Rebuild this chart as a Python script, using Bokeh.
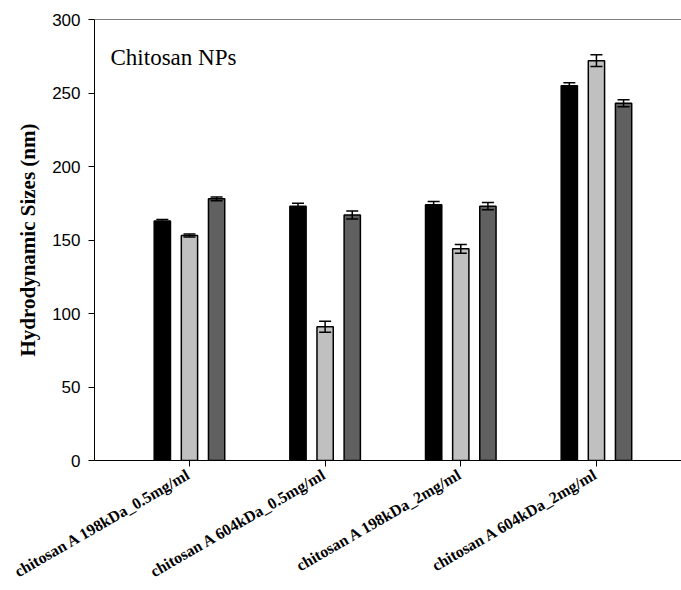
import math
from bokeh.plotting import figure
from bokeh.models import (ColumnDataSource, FixedTicker, Range1d, Whisker, TeeHead,
                          Span, Label)
from bokeh.embed import file_html
from bokeh.resources import INLINE

# ---- data ----
groups = ["chitosan A 198kDa_0.5mg/ml", "chitosan A 604kDa_0.5mg/ml",
          "chitosan A 198kDa_2mg/ml", "chitosan A 604kDa_2mg/ml"]
series1 = [163, 173, 174, 255]
series1_err = [1.0, 2.0, 2.2, 2.0]
series2 = [153, 91, 144, 272]
series2_err = [1.0, 3.8, 3.0, 4.0]
series3 = [178, 167, 173, 243]
series3_err = [1.3, 2.7, 2.5, 2.4]
y_ticks = [0, 50, 100, 150, 200, 250, 300]

colors = ["#000000", "#c0c0c0", "#606060"]
offsets = [-0.2, 0.0, 0.2]
bar_w = 0.12

p = figure(width=681, height=590, output_backend="svg", toolbar_location=None,
           x_range=Range1d(0.30, 4.627), y_range=Range1d(0, 300),
           min_border_left=94, min_border_right=0, min_border_top=19,
           min_border_bottom=130)
p.outline_line_color = None
p.xgrid.grid_line_color = None
p.ygrid.grid_line_color = None
p.background_fill_color = "white"
p.border_fill_color = "white"

pos = [i + 1 for i in range(len(groups))]
all_series = [(series1, series1_err), (series2, series2_err), (series3, series3_err)]
for (vals, errs), col, off in zip(all_series, colors, offsets):
    xs = [x + off for x in pos]
    src = ColumnDataSource(dict(x=xs, top=vals,
                                upper=[v + e for v, e in zip(vals, errs)],
                                lower=[v - e for v, e in zip(vals, errs)]))
    p.vbar(x="x", top="top", bottom=0, width=bar_w, source=src,
           fill_color=col, line_color="black", line_width=1.5)
    w = Whisker(source=src, base="x", upper="upper", lower="lower",
                line_color="black", line_width=1.5, level="overlay",
                upper_head=TeeHead(size=12, line_color="black", line_width=1.5),
                lower_head=TeeHead(size=12, line_color="black", line_width=1.5))
    p.add_layout(w)

# top frame line
p.add_layout(Span(location=300, dimension="width", line_color="black", line_width=1))

# x axis
p.xaxis.ticker = FixedTicker(ticks=pos)
p.xaxis.major_label_overrides = {i + 1: g for i, g in enumerate(groups)}
p.xaxis.major_label_orientation = math.pi / 6
p.xaxis.major_label_text_font = "Liberation Serif"
p.xaxis.major_label_text_font_style = "bold"
p.xaxis.major_label_text_font_size = "16px"
p.xaxis.major_label_text_color = "black"
p.xaxis.major_tick_out = 6
p.xaxis.major_tick_in = 0
p.xaxis.minor_tick_line_color = None
p.xaxis.axis_line_color = "black"
p.xaxis.major_tick_line_color = "black"
p.xaxis.major_label_standoff = 6

# y axis
p.yaxis.ticker = FixedTicker(ticks=y_ticks)
p.yaxis.major_label_text_font = "Liberation Sans"
p.yaxis.major_label_text_font_size = "17px"
p.yaxis.major_label_text_color = "black"
p.yaxis.major_tick_out = 6
p.yaxis.major_tick_in = 0
p.yaxis.minor_tick_line_color = None
p.yaxis.axis_line_color = "black"
p.yaxis.major_tick_line_color = "black"
p.yaxis.major_label_standoff = 8
p.yaxis.axis_label = "Hydrodynamic Sizes (nm)"
p.yaxis.axis_label_text_font = "Liberation Serif"
p.yaxis.axis_label_text_font_style = "bold"
p.yaxis.axis_label_text_font_size = "21px"
p.yaxis.axis_label_text_color = "black"
p.yaxis.axis_label_standoff = 9

p.add_layout(Label(x=0.418, y=274, text="Chitosan NPs", text_font="Liberation Serif",
                   text_font_size="23px", text_color="black",
                   text_baseline="alphabetic"))

open("out.html", "w").write(file_html(p, INLINE))
